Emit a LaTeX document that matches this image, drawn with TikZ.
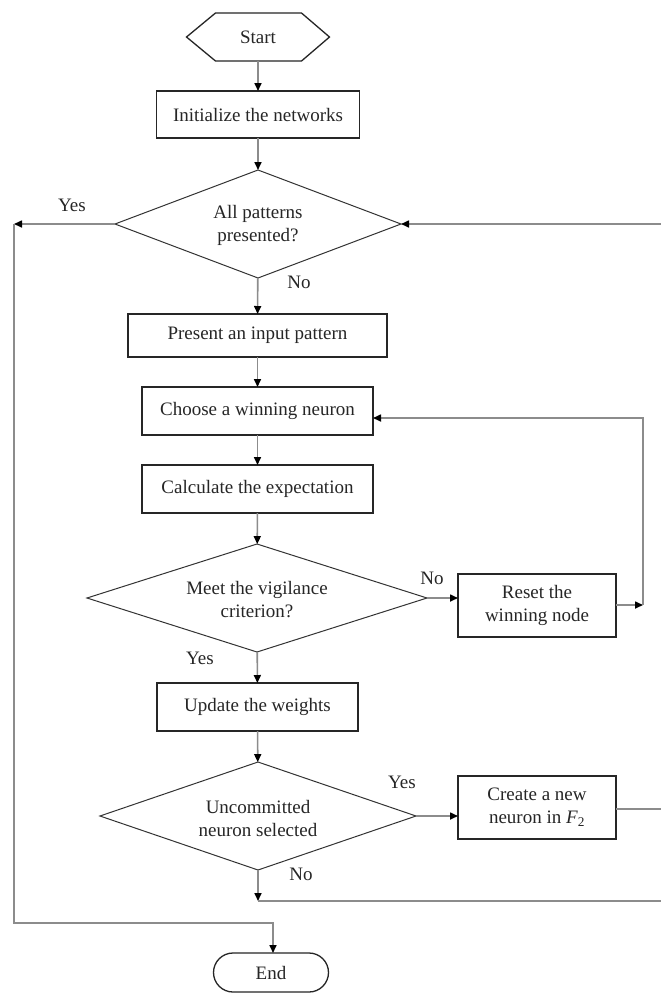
\documentclass[tikz,border=0pt]{standalone}
\usepackage{fontspec}
\setmainfont{Liberation Serif}
\usetikzlibrary{arrows.meta,shapes.geometric,shapes.misc}
\begin{document}
\begin{tikzpicture}[x=1pt,y=-1pt,
  font=\fontsize{19}{23}\selectfont,
  txt/.style={text=black!85, align=center, inner sep=0pt, outer sep=0pt},
  box/.style={draw=black!85, line width=1.3pt, rectangle, minimum width=#1, minimum height=48pt,
              inner sep=0pt, outer sep=0pt, align=center, text=black!85},
  diam/.style={draw=black!80, line width=1pt, diamond, inner sep=0pt, outer sep=0pt},
  conn/.style={draw=black!45, line width=1.6pt, -{Triangle[length=8pt,width=7pt,color=black]}},
  plain/.style={draw=black!45, line width=1.6pt}]
\useasboundingbox (0,0) rectangle (661,994);
\fill[white] (0,0) rectangle (661,994);

% start
\node[txt, minimum width=143pt, minimum height=48pt] (start) at (258,37) {Start};
\draw[draw=black!85, line width=1.3pt] (start.west) -- ([xshift=29pt]start.north west) -- ([xshift=-28pt]start.north east)
   -- (start.east) -- ([xshift=-28pt]start.south east) -- ([xshift=29pt]start.south west) -- cycle;

% boxes
\node[box=203pt, minimum height=47pt] (init) at (258,114.5) {Initialize the networks};
\node[diam, minimum width=286pt, minimum height=108pt] (d1) at (258,224) {};
\node[txt] (d1t) at (258,225) {All patterns\\presented?};
\node[box=259pt, minimum height=43pt] (present) at (257.5,335.5) {Present an input pattern};
\node[box=231pt] (choose) at (257.5,411) {Choose a winning neuron};
\node[box=231pt] (calc) at (257.5,489) {Calculate the expectation};
\node[diam, minimum width=340pt, minimum height=108pt] (d2) at (257,598) {};
\node[txt] (d2t) at (257,600) {Meet the vigilance\\criterion?};
\node[box=158pt, minimum height=63pt] (reset) at (537,605.5) {Reset the\\winning node};
\node[box=201pt] (update) at (257.5,707) {Update the weights};
\node[diam, minimum width=316pt, minimum height=108pt] (d3) at (258,816) {};
\node[txt] (d3t) at (258,818) {Uncommitted\\neuron selected};
\node[box=158pt, minimum height=63pt] (create) at (537,807.5) {Create a new\\neuron in \textit{F}\textsubscript{2}};
\node[draw=black!85, line width=1.3pt, rounded rectangle, minimum width=115pt, minimum height=39pt,
      inner sep=0pt, outer sep=0pt, text=black!85] (end) at (271,972.5) {End};

% labels
\node[txt] (l1) at (72,205) {Yes};
\node[txt] (l2) at (299,282) {No};
\node[txt] (l3) at (432,578) {No};
\node[txt] (l4) at (200,658) {Yes};
\node[txt] (l5) at (402,782) {Yes};
\node[txt] (l6) at (301,874) {No};

% coordinates
\coordinate (yl) at (14,224);
\coordinate (bl) at (14,923);
\coordinate (rc) at (643,605);
\coordinate (rt) at (661,224);
\coordinate (rm) at (661,809);
\coordinate (jn) at (258,901);
\coordinate (rb) at (661,901);

% connectors
\draw[conn] (start) -- (init);
\draw[conn] (init) -- (d1);
\draw[conn] (d1) -- (present);
\draw[conn] (present) -- (choose);
\draw[conn] (choose) -- (calc);
\draw[conn] (calc) -- (d2);
\draw[conn] (d2) -- (update);
\draw[conn] (update) -- (d3);
\draw[conn] (d2.east) -- (d2.east -| reset.west);
\draw[conn] (reset.east |- rc) -- (rc);
\draw[conn] (rc) |- ([yshift=-7pt]choose.east);
\draw[conn] (d3.east) -- (d3.east -| create.west);
\draw[plain] (create.east |- rm) -- (rm);
\draw[conn] (rt) -- (d1.east);
\draw[conn] (d1.west) -- (yl);
\draw[conn] (yl) -- (bl) -| (end.north -| 273,0);
\draw[conn] (d3.south) -- (jn);
\draw[plain] (jn) -- (rb);
\end{tikzpicture}
\end{document}
